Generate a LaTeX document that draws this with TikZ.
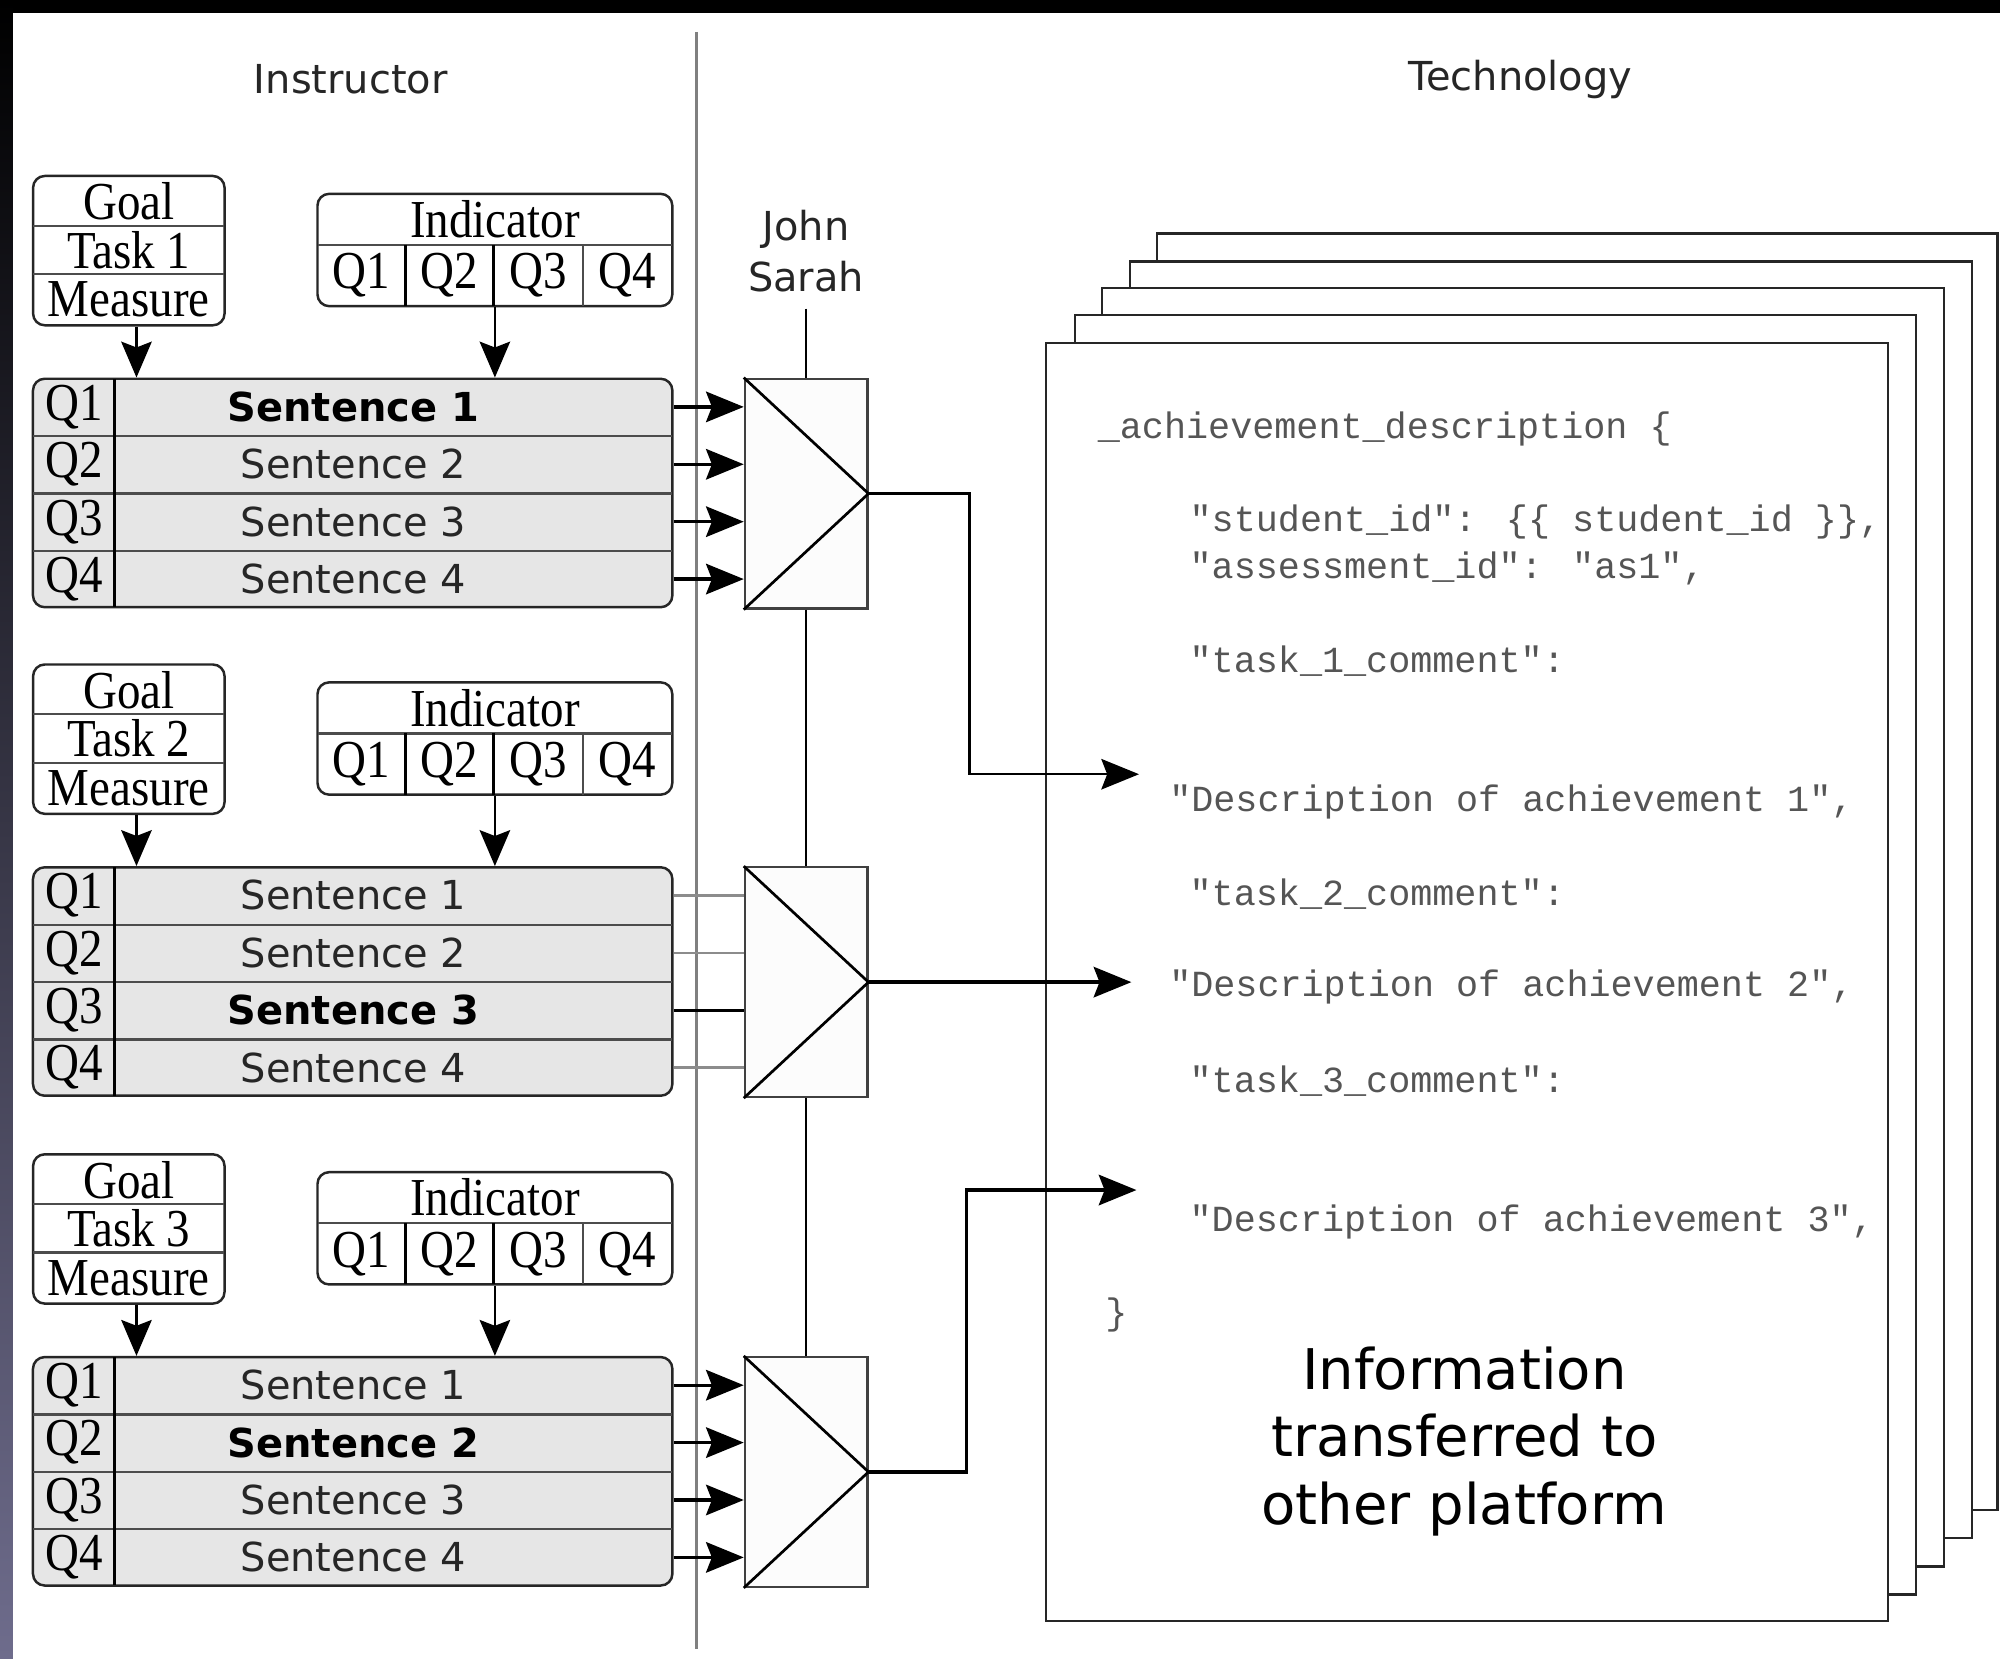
\documentclass[tikz,border=0pt]{standalone}
\usepackage{fontspec}
\setmainfont{Liberation Serif}
\newfontfamily\dvs{DejaVu Sans}
\newfontfamily\srf[FakeStretch=0.88]{Liberation Serif}
\newfontfamily\mono{Liberation Mono}
\usetikzlibrary{arrows.meta,calc}

\definecolor{sentfill}{RGB}{230,230,230}
\definecolor{codegray}{RGB}{85,85,85}
\definecolor{bandlow}{RGB}{110,108,140}

\tikzset{
  x=0.01cm, y=-0.01cm,
  box/.style={draw=black!85, line width=0.55pt, rounded corners=2.6pt, inner sep=0pt},
  rowline/.style={draw=black!70, line width=0.5pt},
  colline/.style={draw=black, line width=0.7pt},
  sertext/.style={font=\srf\fontsize{11.9}{13}\selectfont, inner sep=0pt},
  sanstext/.style={font=\dvs\fontsize{8.9}{11.3}\selectfont, inner sep=0pt, text=black!85},
  boldtext/.style={font=\dvs\bfseries\fontsize{8.9}{11.3}\selectfont, inner sep=0pt},
  codetext/.style={font=\mono\fontsize{8.2}{10}\selectfont, text=codegray, anchor=west, inner sep=0pt},
  arr/.style={-{Stealth[length=8.4pt,width=6.8pt,inset=1.3pt]}, line width=0.75pt},
  arrthin/.style={-{Stealth[length=8pt,width=6.8pt,inset=1.3pt]}, line width=0.5pt},
  link/.style={line width=0.6pt},
  muxbox/.style={draw=black!75, line width=0.5pt, fill=black!1, minimum width=0.96cm, minimum height=1.80cm, inner sep=0pt},
  page/.style={draw=black!85, line width=0.55pt, fill=white},
}

% One task block: goal card, indicator card, sentence table and selector
% #1 task number, #2 vertical offset, #3 selected sentence
\newcommand{\taskgroup}[3]{%
\begin{scope}[shift={(0,#2)}]
  \node[box, minimum width=1.50cm, minimum height=1.17cm] (goal#1) at (101,196.5) {};
  \draw[rowline] (26,177) -- (176,177) (26,215) -- (176,215);
  \node[sertext] (goalt#1) at (101,158) {Goal};
  \node[sertext] (task#1) at (101,196) {Task #1};
  \node[sertext] (meas#1) at (101,235) {Measure};
  \node[box, minimum width=2.78cm, minimum height=0.88cm] (ind#1) at (388,196) {};
  \draw[rowline] (249,192) -- (527,192);
  \draw[colline] (318,192) -- (318,240) (387,192) -- (387,240);
  \draw[rowline] (457,192) -- (457,240);
  \node[sertext] (indt#1) at (388,172) {Indicator};
  \foreach \c/\xx in {1/283.5,2/352.5,3/422,4/492}
    \node[sertext] (iq#1\c) at (\xx,216) {Q\c};
  \node[box, fill=sentfill, minimum width=5.01cm, minimum height=1.79cm] (sent#1) at (276.5,386.5) {};
  \draw[rowline] (26,342) -- (527,342) (26,387) -- (527,387) (26,432) -- (527,432);
  \draw[colline] (90,297) -- (90,476);
  \foreach \r/\yy in {1/319,2/364,3/409,4/454} {
    \node[sertext] (q#1\r) at (58,\yy) {Q\r};
    \ifnum\r=#3
      \node[boldtext] (s#1\r) at (277,\yy) {Sentence \r};
    \else
      \node[sanstext] (s#1\r) at (277,\yy) {Sentence \r};
    \fi
  }
  \node[muxbox] (mux#1) at (632,387) {};
  \draw[link] (mux#1.north west) -- (mux#1.east) -- (mux#1.south west);
  \coordinate (ga#1) at ([xshift=0.06cm]goal#1.south);
  \draw[arrthin] (ga#1) -- (ga#1 |- sent#1.north);
  \draw[arrthin] (ind#1.south) -- (ind#1.south |- sent#1.north);
\end{scope}}

\begin{document}
\begin{tikzpicture}
\useasboundingbox (0,0) rectangle (1568,1300);
\fill[white] (0,0) rectangle (1568,1300);
\fill[black] (0,0) rectangle (1568,10);
\shade[top color=black, bottom color=bandlow] (0,0) rectangle (10,1300);

% column headings and divider
\node[sanstext] (instr) at (275,62) {Instructor};
\node[sanstext] (tech) at (1192,62) {Technology};
\draw[draw=black!50, line width=0.5pt] (546,25) -- (546,1293);

% stacked output pages, back to front
\draw[page] (907,183) rectangle (1566,1184);
\draw[page] (886,205) rectangle (1546,1206);
\draw[page] (864,226) rectangle (1524,1228);
\draw[page] (843,247) rectangle (1502,1250);
\draw[page] (820,269) rectangle (1480,1271);

\taskgroup{1}{0}{1}
\taskgroup{2}{383}{3}
\taskgroup{3}{767}{2}

% sentence rows into the selectors
\foreach \r in {1,...,4} {
  \draw[arr] (sent1.east |- s1\r) -- (mux1.west |- s1\r);
  \draw[arr] (sent3.east |- s3\r) -- (mux3.west |- s3\r);
}
\foreach \r in {1,2,4}
  \draw[draw=black!45, line width=0.5pt] (sent2.east |- s2\r) -- (mux2.west |- s2\r);
\draw[line width=0.75pt] (sent2.east |- s23) -- (mux2.west |- s23);

% student names feeding the selectors
\node[sanstext, align=center] (who) at (632,197) {John\\Sarah};
\coordinate (whoend) at (632,242);
\draw[link] (whoend) -- (mux1.north);
\draw[link] (mux1.south) -- (mux2.north);
\draw[link] (mux2.south) -- (mux3.north);

% generated record
\node[codetext] (c1) at (860,336) {\_achievement\_description \{};
\node[codetext] (c2) at (932,409) {"student\_id": \{\{ student\_id \}\},};
\node[codetext] (c3) at (932,446) {"assessment\_id": "as1",};
\node[codetext] (c4) at (932,518) {"task\_1\_comment":};
\node[codetext] (c5) at (916,629) {"Description of achievement 1",};
\node[codetext] (c6) at (932,701) {"task\_2\_comment":};
\node[codetext] (c7) at (916,774) {"Description of achievement 2",};
\node[codetext] (c8) at (932,848) {"task\_3\_comment":};
\node[codetext] (c9) at (932,958) {"Description of achievement 3",};
\node[codetext] (c10) at (866,1031) {\}};
\node[font=\dvs\fontsize{12.5}{15}\selectfont, align=center, inner sep=0pt] (info) at (1148,1130)
  {Information\\transferred to\\other platform};

% selector outputs into the record
\coordinate (d1) at (893,607);
\coordinate (d2) at (887,770);
\coordinate (d3) at (891,933);
\draw[arr, line width=0.55pt] (mux1.east) -- ++(79,0) |- (d1);
\draw[arr] (mux2.east) -- (d2);
\draw[arr] (mux3.east) -- ++(77,0) |- (d3);
\end{tikzpicture}
\end{document}
